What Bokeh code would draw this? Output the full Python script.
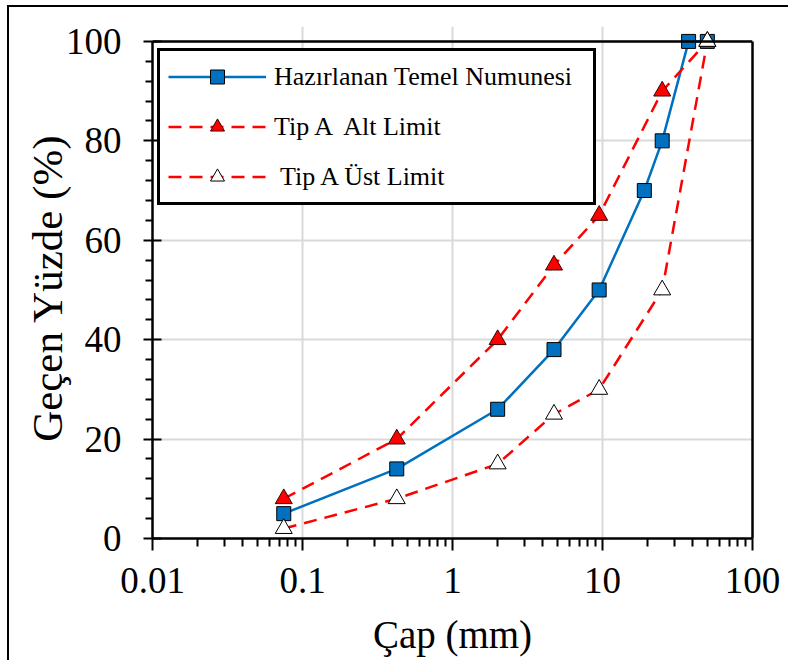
from bokeh.plotting import figure
from bokeh.models import (Range1d, FixedTicker, LinearAxis, Span, Legend, LegendItem)
from bokeh.embed import file_html
from bokeh.resources import INLINE

# ---- data ----
sieve_mm = [0.075, 0.425, 2, 4.75, 9.5, 19, 25, 37.5, 50]
sample_pass = [5, 14, 26, 38, 50, 70, 80, 100, 100]
limit_sieve_mm = [0.075, 0.425, 2, 4.75, 9.5, 25, 50]
alt_limit = [8, 20, 40, 55, 65, 90, 100]
ust_limit = [2, 8, 15, 25, 30, 50, 100]
x_ticks = [0.01, 0.1, 1, 10, 100]
x_tick_labels = ["0.01", "0.1", "1", "10", "100"]
y_ticks = [0, 20, 40, 60, 80, 100]
y_tick_labels = ["0", "20", "40", "60", "80", "100"]
y_minor = [4, 8, 12, 16, 24, 28, 32, 36, 44, 48, 52, 56, 64, 68, 72, 76, 84, 88, 92, 96]
series_names = ["Hazırlanan Temel Numunesi", "Tip A  Alt Limit", " Tip A Üst Limit"]
x_label = "Çap (mm)"
y_label = "Geçen Yüzde  (%)"

FONT = "'Liberation Serif', 'Times New Roman', serif"
BLUE = "#0070C0"
RED = "#FF0000"

x_minor = [d * m for d in x_ticks[:-1] for m in range(2, 10)]

p = figure(width=781, height=655, x_axis_type="log",
           x_range=Range1d(0.01, 100), y_range=Range1d(0, 103),
           output_backend="svg", toolbar_location=None,
           min_border_left=143, min_border_right=38,
           min_border_top=19, min_border_bottom=124,
           background_fill_color="white", border_fill_color="white")
p.styles = {"border-left": "2px solid black", "border-top": "2px solid black",
            "margin-left": "7px", "margin-top": "5px"}
p.outline_line_color = None

# grids
p.xgrid.ticker = FixedTicker(ticks=x_ticks)
p.ygrid.ticker = FixedTicker(ticks=y_ticks)
for g in (p.xgrid, p.ygrid):
    g.grid_line_color = "#D9D9D9"
    g.grid_line_width = 2

# x axis
xa = p.xaxis[0]
xa.ticker = FixedTicker(ticks=x_ticks, minor_ticks=x_minor)
xa.major_label_overrides = {t: l for t, l in zip(x_ticks, x_tick_labels)}
xa.axis_label = x_label
# y axis
ya = p.yaxis[0]
ya.ticker = FixedTicker(ticks=y_ticks, minor_ticks=y_minor)
ya.major_label_overrides = {t: l for t, l in zip(y_ticks, y_tick_labels)}
ya.axis_label = y_label
ya.bounds = (0, 100)

for ax in (xa, ya):
    ax.axis_line_color = "black"
    ax.axis_line_width = 2.5
    ax.major_tick_line_color = "black"
    ax.major_tick_line_width = 2
    ax.minor_tick_line_color = "black"
    ax.minor_tick_line_width = 2
    ax.major_label_text_font = FONT
    ax.major_label_text_font_size = "37px"
    ax.major_label_text_color = "black"
    ax.axis_label_text_font = FONT
    ax.axis_label_text_font_style = "normal"
    ax.axis_label_text_color = "black"

xa.major_tick_in = 0
xa.major_tick_out = 12
xa.minor_tick_in = 0
xa.minor_tick_out = 8
xa.major_label_standoff = 17
xa.axis_label_text_font_size = "39px"
xa.axis_label_standoff = 17

ya.major_tick_in = 9
ya.major_tick_out = 9
ya.minor_tick_in = 0
ya.minor_tick_out = 7
ya.major_label_standoff = 22
ya.axis_label_text_font_size = "43px"
ya.axis_label_standoff = -8

# right border as an axis without ticks
ra = LinearAxis(bounds=(0, 100), ticker=FixedTicker(ticks=[]),
                axis_line_color="black", axis_line_width=2.5,
                major_tick_line_color=None, minor_tick_line_color=None,
                major_label_text_font_size="0px")
p.add_layout(ra, "right")
# top border at 100 %
p.add_layout(Span(location=100, dimension="width", line_color="black", line_width=2.5))

# series
l_sample = p.line(sieve_mm, sample_pass, line_color=BLUE, line_width=2.5)
l_alt = p.line(limit_sieve_mm, alt_limit, line_color=RED, line_width=2.5, line_dash="13 8")
l_ust = p.line(limit_sieve_mm, ust_limit, line_color=RED, line_width=2.5, line_dash="13 8")

m_sample = p.scatter(sieve_mm, sample_pass, marker="square", size=14,
                     fill_color=BLUE, line_color="black", line_width=1)
m_alt = p.scatter(limit_sieve_mm, alt_limit, marker="triangle", size=17,
                  fill_color=RED, line_color="#400000", line_width=1)
m_ust = p.scatter(limit_sieve_mm, ust_limit, marker="triangle", size=17,
                  fill_color="white", line_color="black", line_width=1)

legend = Legend(items=[
    LegendItem(label=series_names[0], renderers=[l_sample, m_sample]),
    LegendItem(label=series_names[1], renderers=[l_alt, m_alt]),
    LegendItem(label=series_names[2], renderers=[l_ust, m_ust]),
], location=(5, 333))
legend.label_text_font = FONT
legend.label_text_font_size = "26px"
legend.label_text_color = "black"
legend.label_height = 35
legend.label_width = 311
legend.glyph_height = 35
legend.glyph_width = 98
legend.label_standoff = 8
legend.spacing = 15
legend.padding = 8
legend.margin = 0
legend.border_line_color = "black"
legend.border_line_alpha = 1
legend.border_line_width = 3
legend.background_fill_color = "white"
legend.background_fill_alpha = 1
p.add_layout(legend, "center")

open("out.html", "w").write(file_html(p, INLINE))
